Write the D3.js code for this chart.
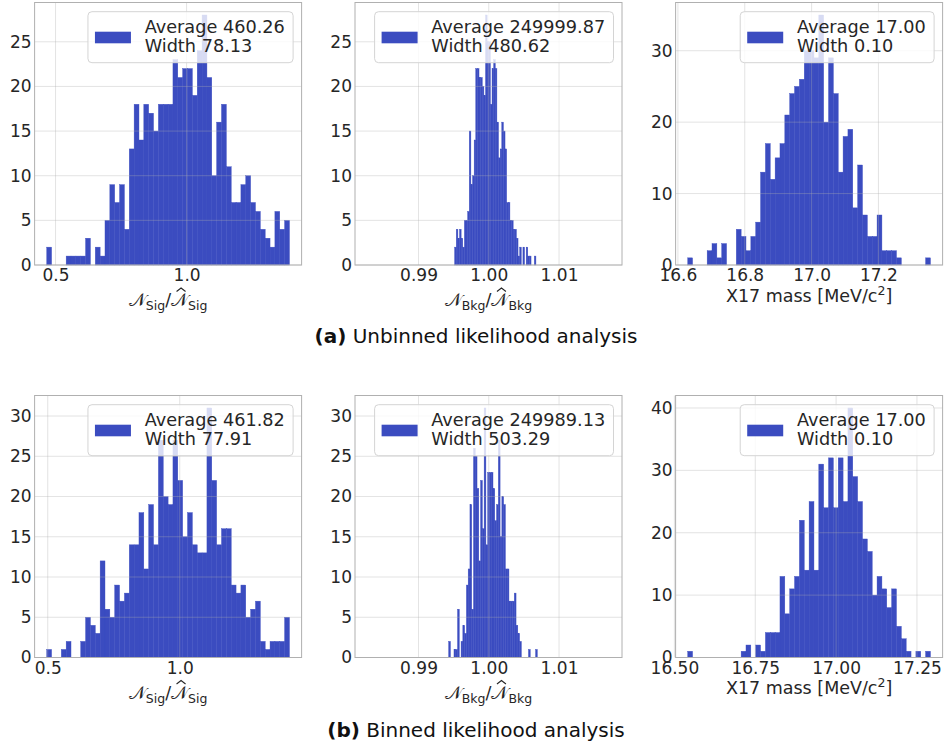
<!DOCTYPE html>
<html><head><meta charset="utf-8">
<script src="https://cdn.jsdelivr.net/npm/d3@7"></script>
<style>body{margin:0;background:#fff} svg{display:block}</style>
</head><body><svg id="chart" width="945" height="746"></svg>
<script>
// ---------------- data ----------------
const sigUnbinnedCounts = [2,0,0,0,1,1,1,1,3,0, 2,1,5,9,7,9,4,13,18,14, 18,17,15,18,18,18,23,21,22,22, 19,24,28,21,10,16,18,11,7,7, 9,10,7,6,4,3,2,6,4,5];
const sigUnbinnedRange = [0.4664, 1.3925];
const bkgUnbinnedCounts = [2,4,3,4,3,2,5,5,6,15, 9,10,14,22,22,21,21,20,19,28, 25,25,18,22,23,22,16,12,13,16, 15,13,7,7,5,5,4,4,3,1, 2,0,2,0,2,1,1,0,0,1];
const bkgUnbinnedRange = [0.99514, 1.00671];
const massUnbinnedCounts = [1,0,0,0,2,3,1,3,0,0, 5,4,2,4,6,13,17,12,15,17, 21,24,25,26,30,30,29,35,20,29, 24,13,18,19,8,14,7,4,4,7, 2,2,2,1,0,0,0,0,0,1];
const massUnbinnedRange = [16.6294, 17.3556];

const sigBinnedCounts = [1,0,0,1,2,0,0,2,5,4, 3,12,6,5,9,7,8,14,14,18, 11,19,14,27,20,19,27,22,15,18, 14,13,13,31,22,14,16,16,9,8, 9,5,6,7,2,1,2,2,2,5];
const sigBinnedRange = [0.4962, 1.4156];
const bkgBinnedCounts = [2,0,0,1,1,6,0,2,4,3, 9,11,19,6,26,25,21,12,22,16, 31,14,23,23,23,21,17,19,27,15, 20,19,11,11,7,7,7,8,4,3, 2,0,0,0,0,1,0,0,0,1];
const bkgBinnedRange = [0.99429, 1.00691];
const massBinnedCounts = [1,0,0,0,0,0,0,0,0,0, 0,1,2,0,2,1,4,4,4,13, 7,11,13,22,14,25,14,31,24,32, 24,32,25,40,29,25,19,17,10,13, 11,8,11,5,3,1,0,1,0,1];
const massBinnedRange = [16.5412, 17.2918];

const bkgXLimits = [0.98096, 1.01896];

const sigTicks = [0.5, 1.0];
const bkgTicks = [0.99, 1.00, 1.01];
const massUnbinnedTicks = [16.6, 16.8, 17.0, 17.2];
const massBinnedTicks = [16.50, 16.75, 17.00, 17.25];
const yTicks25 = [0, 5, 10, 15, 20, 25];
const yTicks30 = [0, 5, 10, 15, 20, 25, 30];
const yTicksMassA = [0, 10, 20, 30];
const yTicksMassB = [0, 10, 20, 30, 40];

const legendSigUnbinned = ["Average 460.26", "Width 78.13"];
const legendBkgUnbinned = ["Average 249999.87", "Width 480.62"];
const legendMassUnbinned = ["Average 17.00", "Width 0.10"];
const legendSigBinned = ["Average 461.82", "Width 77.91"];
const legendBkgBinned = ["Average 249989.13", "Width 503.29"];
const legendMassBinned = ["Average 17.00", "Width 0.10"];

const captionA = ["(a)", " Unbinned likelihood analysis"];
const captionB = ["(b)", " Binned likelihood analysis"];

// ---------------- layout / style ----------------
const FONT = "'DejaVu Sans', sans-serif";
const BAR = "#3b4cc0";
const TXT = "#262626";
const colLefts = [34.6, 355, 675.6];
const PW = 267;
const rowTops = [2.5, 395.5];
const rowH = [262.5, 262];

const panels = [
  {counts: sigUnbinnedCounts, range: sigUnbinnedRange, xlim: null, xTicks: sigTicks, xFmt: ".1f", yTicks: yTicks25, legend: legendSigUnbinned, label: "Sig", col: 0, row: 0},
  {counts: bkgUnbinnedCounts, range: bkgUnbinnedRange, xlim: bkgXLimits, xTicks: bkgTicks, xFmt: ".2f", yTicks: yTicks25, legend: legendBkgUnbinned, label: "Bkg", col: 1, row: 0},
  {counts: massUnbinnedCounts, range: massUnbinnedRange, xlim: null, xTicks: massUnbinnedTicks, xFmt: ".1f", yTicks: yTicksMassA, legend: legendMassUnbinned, label: "mass", col: 2, row: 0},
  {counts: sigBinnedCounts, range: sigBinnedRange, xlim: null, xTicks: sigTicks, xFmt: ".1f", yTicks: yTicks30, legend: legendSigBinned, label: "Sig", col: 0, row: 1},
  {counts: bkgBinnedCounts, range: bkgBinnedRange, xlim: bkgXLimits, xTicks: bkgTicks, xFmt: ".2f", yTicks: yTicks30, legend: legendBkgBinned, label: "Bkg", col: 1, row: 1},
  {counts: massBinnedCounts, range: massBinnedRange, xlim: null, xTicks: massBinnedTicks, xFmt: ".2f", yTicks: yTicksMassB, legend: legendMassBinned, label: "mass", col: 2, row: 1}
];

function autoLim(r) { const m = 0.05 * (r[1] - r[0]); return [r[0] - m, r[1] + m]; }

const svg = d3.select("#chart");
svg.append("rect").attr("width", 945).attr("height", 746).attr("fill", "#fff");

function drawPieces(g, pieces, cx, baseline) {
  const nodes = pieces.map(p => g.append("text")
    .attr("font-family", p.font || FONT).attr("font-size", p.size)
    .attr("fill", TXT).text(p.t));
  const widths = nodes.map(n => n.node().getComputedTextLength());
  let xx = cx - d3.sum(widths) / 2;
  nodes.forEach((n, i) => {
    const p = pieces[i];
    n.attr("x", xx).attr("y", baseline + (p.shift || 0));
    if (p.hat) {
      const c = xx + widths[i] / 2 + 1.5;
      g.append("path")
        .attr("d", `M${c - 4.5},${baseline - 14.5}L${c},${baseline - 18}L${c + 4.5},${baseline - 14.5}`)
        .attr("fill", "none").attr("stroke", TXT).attr("stroke-width", 1.1);
    }
    xx += widths[i];
  });
}

panels.forEach(p => {
  const left = colLefts[p.col], top = rowTops[p.row], w = PW, h = rowH[p.row];
  const g = svg.append("g").attr("transform", `translate(${left},${top})`);
  const x = d3.scaleLinear().domain(p.xlim || autoLim(p.range)).range([0, w]);
  const y = d3.scaleLinear().domain([0, d3.max(p.counts) * 1.05]).range([h, 0]);
  const n = p.counts.length, bw = (p.range[1] - p.range[0]) / n;
  const bins = p.counts.map((c, i) => ({x0: p.range[0] + i * bw, x1: p.range[0] + (i + 1) * bw, c}));

  g.append("g").selectAll("rect").data(bins.filter(b => b.c > 0)).join("rect")
    .attr("x", b => x(b.x0)).attr("width", b => x(b.x1) - x(b.x0))
    .attr("y", b => y(b.c)).attr("height", b => h - y(b.c))
    .attr("fill", BAR).attr("stroke", BAR).attr("stroke-width", 0.4);

  const grid = g.append("g").attr("stroke", "#b0b0b0").attr("stroke-opacity", 0.35).attr("stroke-width", 1);
  p.xTicks.forEach(t => grid.append("line").attr("x1", x(t)).attr("x2", x(t)).attr("y1", 0).attr("y2", h));
  p.yTicks.forEach(t => grid.append("line").attr("x1", 0).attr("x2", w).attr("y1", y(t)).attr("y2", y(t)));

  g.append("rect").attr("width", w).attr("height", h).attr("fill", "none")
    .attr("stroke", "#b0b0b0").attr("stroke-width", 1);

  const xa = g.append("g").attr("transform", `translate(0,${h})`)
    .call(d3.axisBottom(x).tickValues(p.xTicks).tickFormat(d3.format(p.xFmt)).tickSize(0).tickPadding(4));
  const ya = g.append("g")
    .call(d3.axisLeft(y).tickValues(p.yTicks).tickFormat(d3.format("d")).tickSize(0).tickPadding(3));
  [xa, ya].forEach(a => {
    a.select(".domain").remove();
    a.attr("font-family", FONT).attr("font-size", 17);
    a.selectAll("text").attr("fill", TXT);
  });

  // legend
  const lg = g.append("g");
  const t1 = lg.append("text").attr("font-family", FONT).attr("font-size", 17.7).attr("fill", TXT).text(p.legend[0]);
  const t2 = lg.append("text").attr("font-family", FONT).attr("font-size", 17.7).attr("fill", TXT).text(p.legend[1]);
  const tw = Math.max(t1.node().getComputedTextLength(), t2.node().getComputedTextLength());
  const lw = 56.7 + tw + 8.3, lh = 51;
  const lx = w - 8.5 - lw, ly = 9.2;
  lg.insert("rect", "text").attr("x", lx).attr("y", ly).attr("width", lw).attr("height", lh)
    .attr("rx", 4).attr("fill", "#fff").attr("fill-opacity", 0.8)
    .attr("stroke", "#d4d4d4").attr("stroke-width", 1);
  lg.insert("rect", "text").attr("x", lx + 7).attr("y", ly + 20).attr("width", 36).attr("height", 11.6).attr("fill", BAR);
  t1.attr("x", lx + 56.7).attr("y", ly + 21.6);
  t2.attr("x", lx + 56.7).attr("y", ly + 40.6);

  // x label
  const cx = w / 2;
  if (p.label === "mass") {
    drawPieces(g, [
      {t: "X17 mass [MeV/c", size: 17.5},
      {t: "2", size: 12.5, shift: -7},
      {t: "]", size: 17.5}
    ], cx, h + 36.5);
  } else {
    drawPieces(g, [
      {t: "𝒩", size: 18},
      {t: p.label, size: 12.5, shift: 4},
      {t: "/", size: 17.5},
      {t: "𝒩", size: 18, hat: true},
      {t: p.label, size: 12.5, shift: 4}
    ], cx, h + 41);
  }
});

function caption(parts, yb) {
  const t = svg.append("text").attr("x", 476).attr("y", yb).attr("text-anchor", "middle")
    .attr("font-family", FONT).attr("font-size", 20).attr("fill", "#111");
  t.append("tspan").attr("font-weight", "bold").text(parts[0]);
  t.append("tspan").text(parts[1]);
}
caption(captionA, 343);
caption(captionB, 737);
</script>
</body></html>
